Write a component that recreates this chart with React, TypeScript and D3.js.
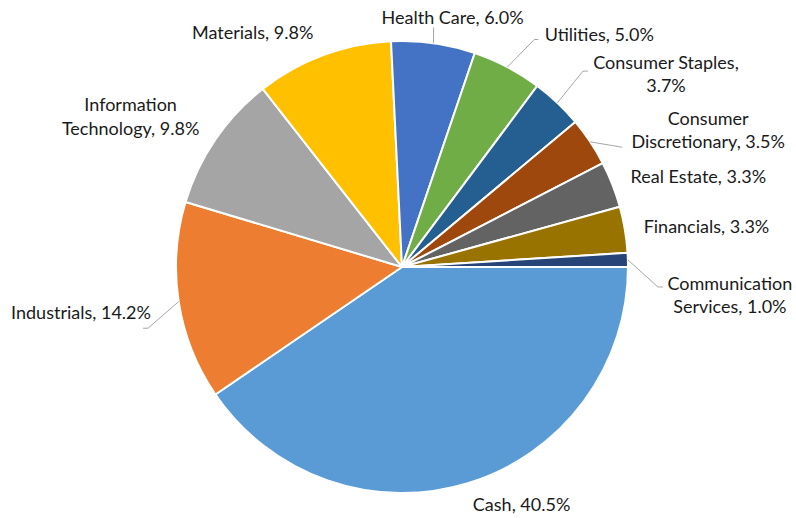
import React from "react";
import * as d3 from "d3";

const categories = [
  "Cash",
  "Industrials",
  "Information Technology",
  "Materials",
  "Health Care",
  "Utilities",
  "Consumer Staples",
  "Consumer Discretionary",
  "Real Estate",
  "Financials",
  "Communication Services",
];
const values = [40.5, 14.2, 9.8, 9.8, 6.0, 5.0, 3.7, 3.5, 3.3, 3.3, 1.0];
const colors = [
  "#5B9BD5",
  "#ED7D31",
  "#A5A5A5",
  "#FFC000",
  "#4472C4",
  "#70AD47",
  "#255E91",
  "#9E480E",
  "#636363",
  "#997300",
  "#264478",
];
// label text lines
const labelLines = [
  ["Cash, 40.5%"],
  ["Industrials, 14.2%"],
  ["Information", "Technology, 9.8%"],
  ["Materials, 9.8%"],
  ["Health Care, 6.0%"],
  ["Utilities, 5.0%"],
  ["Consumer Staples,", "3.7%"],
  ["Consumer", "Discretionary, 3.5%"],
  ["Real Estate, 3.3%"],
  ["Financials, 3.3%"],
  ["Communication", "Services, 1.0%"],
];

// layout: nudges of label centres from a point beyond the slice's mid-angle
const labelNudge: [number, number][] = [
  [44, -7],
  [-68, 6],
  [-60, -6],
  [-60, 6],
  [15, 4],
  [78, -6],
  [88, -7],
  [93, 5],
  [58, 3],
  [52, 2],
  [72, 36],
];
// leader lines: points relative to label centre (elbow, end) or null
const leaders: ([number, number][] | null)[] = [
  null,
  [[67, 16], [62, 16]],
  null,
  null,
  [[-19, 10]],
  [[-65, 5], [-61, 5]],
  [[-83, -3], [-78, -3]],
  [[-86, 17]],
  null,
  null,
  [[-72, -8], [-67, -8]],
];

const W = 796;
const H = 518;
const cx = 402;
const cy = 267;
const R = 226;
const LINE_H = 23.5;

export default function App() {
  const pie = d3
    .pie<number>()
    .sort(null)
    .value((d) => d)
    .startAngle(Math.PI / 2)
    .endAngle(Math.PI / 2 + 2 * Math.PI);
  const arcs = pie(values);
  const arcGen = d3.arc<d3.PieArcDatum<number>>().innerRadius(0).outerRadius(R);
  const polar = (a: number, r: number): [number, number] => [
    cx + r * Math.sin(a),
    cy - r * Math.cos(a),
  ];

  return (
    <svg
      width={W}
      height={H}
      style={{ position: "absolute", left: 0, top: 0, background: "#fff" }}
      fontFamily="Lato, 'Open Sans', sans-serif"
    >
      <rect width={W} height={H} fill="#fff" />
      <g>
        {arcs.map((a, i) => (
          <path
            key={i}
            d={arcGen(a) || ""}
            transform={`translate(${cx},${cy})`}
            fill={colors[i]}
            stroke="#fff"
            strokeWidth={2}
            strokeLinejoin="round"
          />
        ))}
      </g>
      <g>
        {arcs.map((a, i) => {
          const mid = (a.startAngle + a.endAngle) / 2;
          const [px, py] = polar(mid, R + 30);
          const lx = px + labelNudge[i][0];
          const ly = py + labelNudge[i][1];
          const lines = labelLines[i];
          const top = ly - ((lines.length - 1) * LINE_H) / 2;
          const ld = leaders[i];
          let path: string | null = null;
          if (ld) {
            const [sx, sy] = polar(mid, R);
            const p = d3.path();
            p.moveTo(sx, sy);
            ld.forEach(([dx, dy]) => p.lineTo(lx + dx, ly + dy));
            path = p.toString();
          }
          return (
            <g key={i}>
              {path && <path d={path} fill="none" stroke="#A6A6A6" strokeWidth={1} />}
              <text textAnchor="middle" fontSize={18} fill="#1a1a1a">
                {lines.map((t, j) => (
                  <tspan key={j} x={lx} y={top + j * LINE_H} dy="0.35em">
                    {t}
                  </tspan>
                ))}
              </text>
            </g>
          );
        })}
      </g>
    </svg>
  );
}
